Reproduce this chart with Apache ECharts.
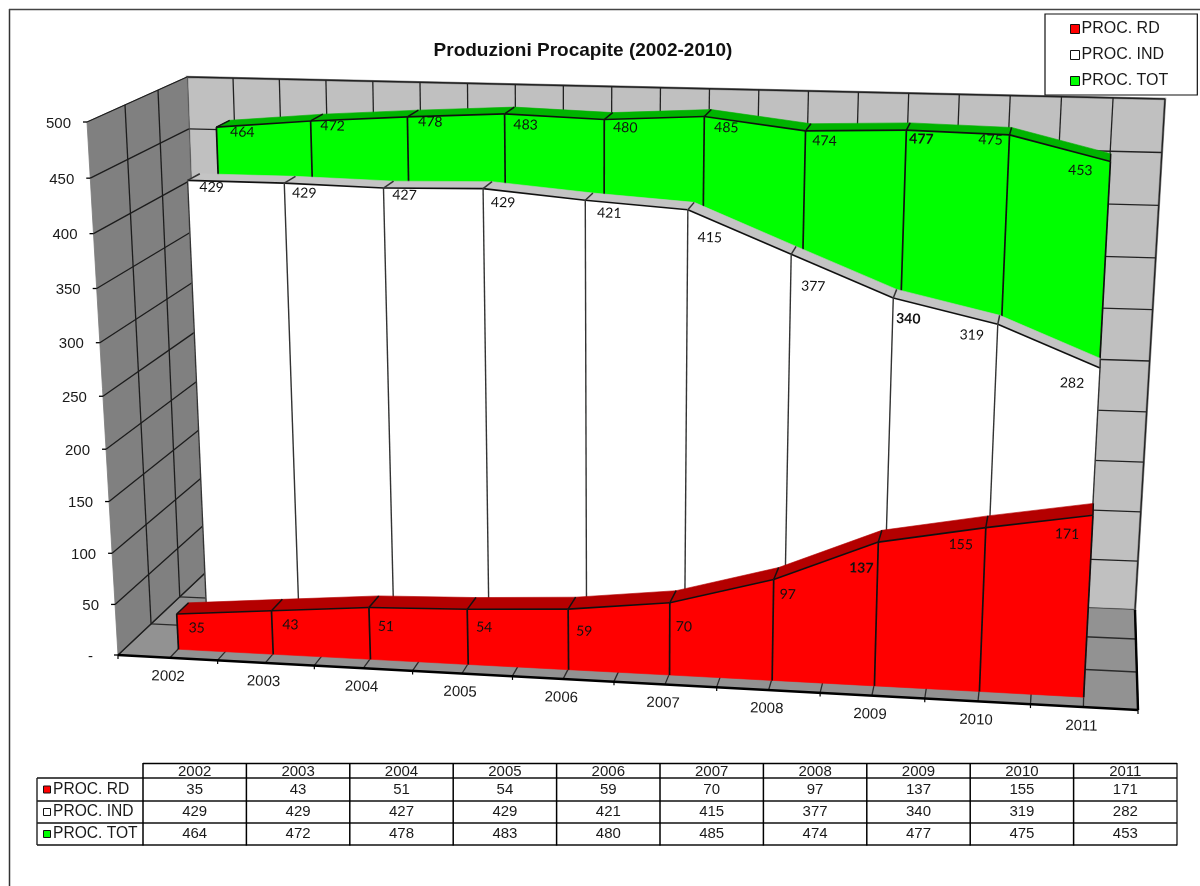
<!DOCTYPE html>
<html><head><meta charset="utf-8">
<style>html,body{margin:0;padding:0;background:#fff}#c{width:1200px;height:886px}</style>
<script src="https://cdn.jsdelivr.net/npm/echarts@6/dist/echarts.min.js"></script>
</head><body><div id="c"></div>
<script>
// ---- data ----
var categories = ['2002','2003','2004','2005','2006','2007','2008','2009','2010','2011'];
var procRD  = [35,43,51,54,59,70,97,137,155,171];
var procIND = [429,429,427,429,421,415,377,340,319,282];
var procTOT = [464,472,478,483,480,485,474,477,475,453];
var yTicks = [0,50,100,150,200,250,300,350,400,450,500];
var yTickLabels = ['-','50','100','150','200','250','300','350','400','450','500'];
var boldYears = ['2009'];

// ---- layout: perspective box (corner pixels of the chart walls) ----
var FRONT = [[118,655],[1138,710],[1170,150],[87,122]];
var BACK  = [[205,573],[1135,610],[1165,99],[187,77]];
var U_WARP = 0.03;
var DEPTH_LINES = [0.38,0.71];
// horizontal correction (px) of the nearer planes, sampled at band centres
var FRONT_SHIFT = [5,5,6,6,7,7,7,5,4,0.5];
function frontShift(u){
  var k=u*10-0.5;
  if(k<=0){return FRONT_SHIFT[0]*Math.min(1,u/0.05);}
  if(k>=9){return FRONT_SHIFT[9]*Math.min(1,(1-u)/0.05);}
  var f=Math.floor(k);
  return FRONT_SHIFT[f]+(FRONT_SHIFT[f+1]-FRONT_SHIFT[f])*(k-f);
}
function homography(q){
  var x0=q[0][0],y0=q[0][1],x1=q[1][0],y1=q[1][1],x2=q[2][0],y2=q[2][1],x3=q[3][0],y3=q[3][1];
  var dx1=x1-x2,dx2=x3-x2,sx=x0-x1+x2-x3,dy1=y1-y2,dy2=y3-y2,sy=y0-y1+y2-y3;
  var den=dx1*dy2-dx2*dy1,g=(sx*dy2-dx2*sy)/den,h=(dx1*sy-sx*dy1)/den;
  var a=x1-x0+g*x1,b=x3-x0+h*x3,d=y1-y0+g*y1,e=y3-y0+h*y3;
  return function(u,v){var w=g*u+h*v+1;return [(a*u+b*v+x0)/w,(d*u+e*v+y0)/w];};
}
var HF=homography(FRONT),HB=homography(BACK);
function proj(u,v,t){
  var uu=u-U_WARP*u*(1-u);
  var A=HF(uu,v),B=HB(uu,v);
  var s=frontShift(u)*Math.min(1,(1-t)/0.1);
  return [A[0]+t*(B[0]-A[0])+s,A[1]+t*(B[1]-A[1])];
}
function norm(params,api,cat,val){
  var c=api.coord([cat,val]),s=params.coordSys;
  return [(c[0]-s.x)/s.width,1-(c[1]-s.y)/s.height];
}
function line(a,b,color,w){
  return {type:'line',shape:{x1:a[0],y1:a[1],x2:b[0],y2:b[1]},style:{stroke:color,lineWidth:w},silent:true};
}
function poly(pts,fill,stroke,w){
  return {type:'polygon',shape:{points:pts},style:{fill:fill,stroke:stroke||fill,lineWidth:w==null?0.6:w},silent:true};
}
var AXIS_FONT='15px "Liberation Sans", Arial, sans-serif';
function txt(x,y,s,font,align,rot,color){
  return {type:'text',x:x,y:y,rotation:rot||0,style:{text:s,font:font,fill:color||'#111',align:align||'center',verticalAlign:'middle'},silent:true};
}
// pixel nudges of the data labels from their point on the front face
var NUDGE_TOT=[[26,5],[22,5],[23,5],[21,11],[21,8],[22,11],[19,10],[15,9],[-19,5],[-30,9]];
var NUDGE_IND=[[24,7],[20,10],[21,7],[20,14],[24,13],[22,28],[22,32],[15,21],[-26,11],[-28,15]];
var NUDGE_RD =[[20,14],[19,14],[17,19],[17,18],[16,22],[14,24],[14,15],[-17,26],[-25,17],[-26,19]];

function frameItem(params,api){
  var ch=[],i,t;
  var wall='#c0c0c0',side='#808080',floor='#929292';
  // back wall
  ch.push(poly([proj(0,0,1),proj(1,0,1),proj(1,1,1),proj(0,1,1)],wall,'#8c8c8c',2.5));
  yTicks.forEach(function(y){var v=norm(params,api,0,y)[1];ch.push(line(proj(0,v,1),proj(1,v,1),'#222',1.3));});
  for(i=0;i<=20;i++){ch.push(line(proj(i/20,0,1),proj(i/20,1,1),'#222',1.3));}
  // floor
  ch.push(poly([proj(0,0,0),proj(1,0,0),proj(1,0,1),proj(0,0,1)],floor,floor,0.5));
  for(i=0;i<=20;i++){ch.push(line(proj(i/20,0,0),proj(i/20,0,1),'#2a2a2a',1.3));}
  DEPTH_LINES.forEach(function(t){ch.push(line(proj(0,0,t),proj(1,0,t),'#2a2a2a',1.3));});
  // left wall
  ch.push(poly([proj(0,0,0),proj(0,0,1),proj(0,1,1),proj(0,1,0)],side,'#7a7a7a',0.8));
  yTicks.forEach(function(y){var v=norm(params,api,0,y)[1];ch.push(line(proj(0,v,0),proj(0,v,1),'#1c1c1c',1.3));});
  DEPTH_LINES.forEach(function(t){ch.push(line(proj(0,0,t),proj(0,1,t),'#1c1c1c',1.3));});
  // heavy edges
  ch.push(line(proj(0,0,0),proj(1,0,0),'#000',2.4));
  ch.push(line(proj(1,0,0),proj(1,0,1),'#000',2.4));
  // x ticks & labels
  for(i=0;i<=10;i++){var a=proj(i/10,0,0);ch.push(line(a,[a[0],a[1]+4],'#000',1.2));}
  categories.forEach(function(c,k){
    var p=proj(norm(params,api,k,0)[0],0,0);
    ch.push(txt(p[0]-2,p[1]+19,c,AXIS_FONT,'center',-0.03,'#1a1a1a'));
  });
  // y ticks & labels
  yTicks.forEach(function(y,k){
    var v=norm(params,api,0,y)[1],p=proj(0,v,0);
    ch.push(line([p[0]-4,p[1]],p,'#000',1.3));
    ch.push(txt(p[0]-(y===0?25:16),p[1]+1.5,yTickLabels[k],AXIS_FONT,'right',0,'#1a1a1a'));
  });
  return {type:'group',children:ch};
}

function areaRenderer(values,tf,tb,color,topColor,lineColor,nudge,lw){
  return function(params,api){
    var i=params.dataIndex,ch=[];
    var a=norm(params,api,i,values[i]);
    var a0=[a[0],0];
    var hasNext=i<values.length-1;
    if(hasNext){
      var b=norm(params,api,i+1,values[i+1]);
      ch.push(poly([proj(a[0],a[1],tf),proj(b[0],b[1],tf),proj(b[0],b[1],tb),proj(a[0],a[1],tb)],topColor,topColor,0.6));
      ch.push(poly([proj(a[0],0,tf),proj(b[0],0,tf),proj(b[0],b[1],tf),proj(a[0],a[1],tf)],color,color,0.6));
      ch.push(line(proj(a[0],a[1],tf),proj(b[0],b[1],tf),'#111',1.6));
    }
    ch.push(line(proj(a[0],a[1],tb),proj(a[0],a[1],tf),lineColor,1.5));
    ch.push(line(proj(a0[0],0,tf),proj(a[0],a[1],tf),lineColor,lw));
    var p=proj(a[0],a[1],tf),bold=boldYears.indexOf(categories[i])>=0;
    ch.push(txt(p[0]+nudge[i][0],p[1]+nudge[i][1],String(values[i]),(bold?'bold ':'')+'14px Lato, "Open Sans", sans-serif','center',-0.03,'#111'));
    return {type:'group',children:ch};
  };
}

// ---- table & furniture ----
var graphic=[];
function gLine(x1,y1,x2,y2,c,w){graphic.push({type:'line',shape:{x1:x1,y1:y1,x2:x2,y2:y2},style:{stroke:c,lineWidth:w},silent:true});}
function gText(x,y,s,align){graphic.push({type:'text',x:x,y:y,style:{text:s,font:'15px "Liberation Sans", Arial, sans-serif',fill:'#1a1a1a',align:align||'center',verticalAlign:'middle'},silent:true});}
gLine(9.5,9,9.5,886,'#333',1.5);
gLine(9,9.5,1200,9.5,'#444',1.5);
var colX=[143,246.4,349.8,453.2,556.6,660,763.4,866.8,970.2,1073.6,1177];
var rowY=[763.5,778,801,823,845];
var tableSeries=[['PROC. RD',procRD,'#ff0000'],['PROC. IND',procIND,'#ffffff'],['PROC. TOT',procTOT,'#00ff00']];
gLine(143,rowY[0],1177,rowY[0],'#000',1.5);
for(var r=1;r<rowY.length;r++){gLine(37,rowY[r],1177,rowY[r],'#111',1.4);}
gLine(37,778,37,845,'#222',1.4);
colX.forEach(function(x,i){gLine(x,763,x,845.5,'#000',i<colX.length-1?1.5:1.2);});
categories.forEach(function(c,i){gText((colX[i]+colX[i+1])/2,771.5,c);});
var cellY=[789.5,812,834];
tableSeries.forEach(function(s,r){
  graphic.push({type:'rect',shape:{x:43.5,y:cellY[r]-3.5,width:7,height:7},style:{fill:s[2],stroke:'#111',lineWidth:1},silent:true});
  graphic.push({type:'text',x:53,y:cellY[r],style:{text:s[0],font:'15.6px "Liberation Sans", Arial, sans-serif',fill:'#1a1a1a',align:'left',verticalAlign:'middle'},silent:true});
  s[1].forEach(function(v,i){gText((colX[i]+colX[i+1])/2,cellY[r],String(v));});
});

var chart=echarts.init(document.getElementById('c'));
chart.setOption({
  animation:false,
  backgroundColor:'#fff',
  title:{text:'Produzioni Procapite (2002-2010)',left:578,top:36,textAlign:'center',
    textStyle:{fontFamily:'"Liberation Sans", Arial, sans-serif',fontSize:19,fontWeight:'bold',color:'#111'}},
  legend:{orient:'vertical',left:1045,top:14,padding:[7,29,6,25],itemGap:10,itemWidth:9,itemHeight:9,icon:'rect',
    borderColor:'#111',borderWidth:1.2,backgroundColor:'#fff',
    itemStyle:{borderColor:'#111',borderWidth:1},
    textStyle:{fontFamily:'"Liberation Sans", Arial, sans-serif',fontSize:16,color:'#1a1a1a',padding:[0,0,0,-3]},
    data:['PROC. RD','PROC. IND','PROC. TOT'],selectedMode:false},
  grid:{left:100,right:100,top:100,bottom:100},
  xAxis:{type:'category',data:categories,show:false,boundaryGap:true},
  yAxis:{type:'value',min:0,max:500,interval:50,show:false},
  graphic:graphic,
  series:[
    {name:'frame',type:'custom',data:[[0,0]],renderItem:frameItem,silent:true},
    {name:'PROC. TOT',type:'custom',data:procTOT.map(function(v,i){return [i,v];}),itemStyle:{color:'#00ff00'},
      renderItem:areaRenderer(procTOT,0.76,0.90,'#00ff00','#00b400','#111',NUDGE_TOT,1.7)},
    {name:'PROC. IND',type:'custom',data:procIND.map(function(v,i){return [i,v];}),itemStyle:{color:'#ffffff'},
      renderItem:areaRenderer(procIND,0.44,0.57,'#ffffff','#c4c4c4','#333',NUDGE_IND,1.4)},
    {name:'PROC. RD',type:'custom',data:procRD.map(function(v,i){return [i,v];}),itemStyle:{color:'#ff0000'},
      renderItem:areaRenderer(procRD,0.10,0.24,'#ff0000','#b40000','#111',NUDGE_RD,1.7)}
  ]
});
</script></body></html>
